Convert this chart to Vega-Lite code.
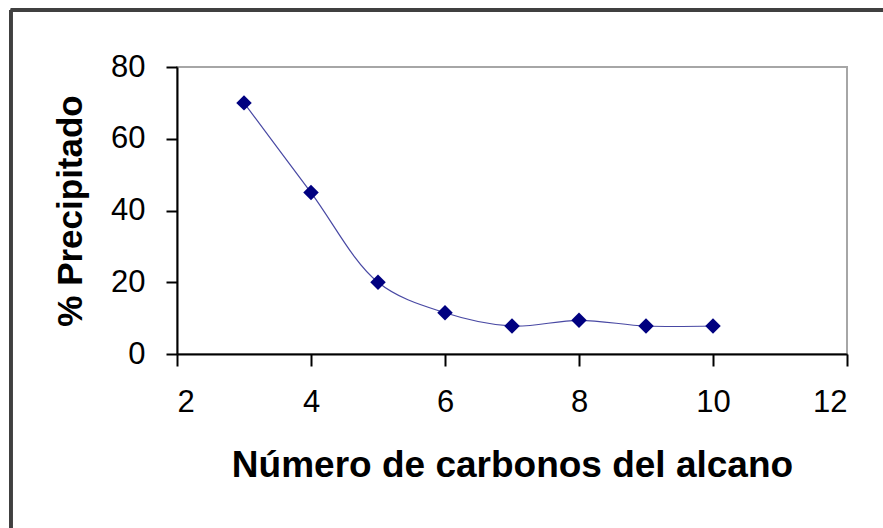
{
  "$schema": "https://vega.github.io/schema/vega-lite/v6.json",
  "width": 670,
  "height": 287,
  "autosize": {"type": "none"},
  "padding": {"left": 177, "top": 67, "right": 36, "bottom": 174},
  "background": "white",
  "config": {
    "font": "Liberation Sans",
    "view": {"stroke": "#a6a6a6", "strokeWidth": 2},
    "axis": {
      "grid": false,
      "domainColor": "#000000",
      "domainWidth": 2,
      "tickColor": "#000000",
      "tickWidth": 2,
      "labelFont": "Liberation Sans",
      "labelFontSize": 31,
      "labelColor": "#000000",
      "titleFont": "Liberation Sans",
      "titleFontWeight": "bold",
      "titleColor": "#000000"
    }
  },
  "data": {
    "values": [
      {"carbonos": 3, "precipitado": 70},
      {"carbonos": 4, "precipitado": 45},
      {"carbonos": 5, "precipitado": 20},
      {"carbonos": 6, "precipitado": 11.5},
      {"carbonos": 7, "precipitado": 7.8},
      {"carbonos": 8, "precipitado": 9.4},
      {"carbonos": 9, "precipitado": 7.8},
      {"carbonos": 10, "precipitado": 7.8}
    ]
  },
  "layer": [
    {
      "mark": {"type": "line", "interpolate": "catmull-rom", "stroke": "#1a1a8c", "strokeWidth": 1.2, "opacity": 0.8},
      "encoding": {
        "x": {
          "field": "carbonos", "type": "quantitative",
          "scale": {"domain": [2, 12], "nice": false, "zero": false},
          "axis": {"values": [2, 4, 6, 8, 10, 12], "format": "d", "tickSize": 12, "labelPadding": 21, "title": "Número de carbonos del alcano", "titleFontSize": 37, "titlePadding": 30}
        },
        "y": {
          "field": "precipitado", "type": "quantitative",
          "scale": {"domain": [0, 80], "nice": false},
          "axis": {"values": [0, 20, 40, 60, 80], "format": "d", "tickSize": 11, "labelPadding": 21, "title": "% Precipitado", "titleFontSize": 35, "titlePadding": 22}
        }
      }
    },
    {
      "mark": {"type": "point", "shape": "diamond", "filled": true, "color": "#000080", "size": 240, "opacity": 1},
      "encoding": {
        "x": {"field": "carbonos", "type": "quantitative"},
        "y": {"field": "precipitado", "type": "quantitative"}
      }
    },
    {
      "mark": {"type": "rule", "color": "#404040", "strokeWidth": 3, "clip": false},
      "encoding": {
        "x": {"datum": -0.48},
        "y": {"datum": 95.9},
        "y2": {"datum": -60}
      }
    },
    {
      "mark": {"type": "rule", "color": "#404040", "strokeWidth": 3, "clip": false},
      "encoding": {
        "y": {"datum": 95.9},
        "x": {"datum": -0.48},
        "x2": {"datum": 15}
      }
    }
  ]
}
